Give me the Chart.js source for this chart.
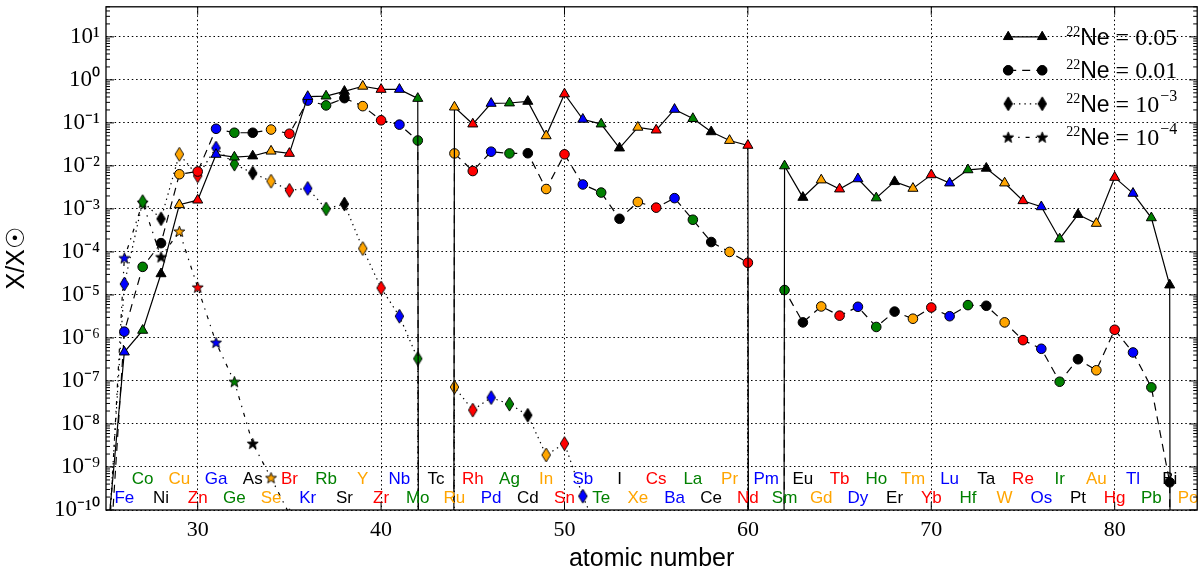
<!DOCTYPE html>
<html>
<head>
<meta charset="utf-8">
<script src="https://cdn.jsdelivr.net/npm/chart.js@4/dist/chart.umd.min.js"></script>
<style>
  html, body { margin: 0; padding: 0; background: #fff; }
  #wrap { width: 1204px; height: 577px; }
</style>
</head>
<body>
<div id="wrap"><canvas id="canvasPanel" width="1204" height="577"></canvas></div>
<script>
// atomic numbers 25 (Mn) .. 84 (Po)
var Z_START = 25;
var ELEMENTS = ['Mn', 'Fe', 'Co', 'Ni', 'Cu', 'Zn', 'Ga', 'Ge', 'As', 'Se', 'Br', 'Kr', 'Rb', 'Sr', 'Y', 'Zr', 'Nb', 'Mo', 'Tc', 'Ru',
  'Rh', 'Pd', 'Ag', 'Cd', 'In', 'Sn', 'Sb', 'Te', 'I', 'Xe', 'Cs', 'Ba', 'La', 'Ce', 'Pr', 'Nd', 'Pm', 'Sm', 'Eu', 'Gd',
  'Tb', 'Dy', 'Ho', 'Er', 'Tm', 'Yb', 'Lu', 'Hf', 'Ta', 'W', 'Re', 'Os', 'Ir', 'Pt', 'Au', 'Hg', 'Tl', 'Pb', 'Bi', 'Po'];

// X/Xsun, 0 = no abundance (drops off the log axis), null = not plotted
var NE_005 = [1e-11, 4.7e-7, 1.5e-6, 3.1e-5, 1.25e-3, 1.6e-3, 0.0185, 0.016, 0.017, 0.022,
  0.0195, 0.41, 0.42, 0.54, 0.71, 0.60, 0.60, 0.37, 0, 0.233,
  0.094, 0.284, 0.29, 0.316, 0.050, 0.47, 0.121, 0.094, 0.026, 0.079,
  0.068, 0.206, 0.126, 0.062, 0.039, 0.030, 0, 0.010, 1.85e-3, 4.7e-3,
  2.9e-3, 5.0e-3, 1.8e-3, 4.3e-3, 3.0e-3, 6.2e-3, 4.0e-3, 8.1e-3, 8.8e-3, 4.0e-3,
  1.55e-3, 1.12e-3, 2.0e-4, 7.4e-4, 4.6e-4, 5.4e-3, 2.3e-3, 6.2e-4, 1.7e-5, 0];
var NE_001 = [3e-13, 1.4e-6, 4.5e-5, 1.6e-4, 6.4e-3, 7.4e-3, 0.073, 0.059, 0.059, 0.070,
  0.056, 0.33, 0.255, 0.376, 0.245, 0.115, 0.091, 0.039, 0, 0.0195,
  7.6e-3, 0.0214, 0.0195, 0.0197, 2.9e-3, 0.0186, 3.7e-3, 2.4e-3, 5.9e-4, 1.45e-3,
  1.07e-3, 1.78e-3, 5.6e-4, 1.7e-4, 1.0e-4, 5.6e-5, 0, 1.3e-5, 2.3e-6, 5.4e-6,
  3.3e-6, 5.3e-6, 1.8e-6, 4.1e-6, 2.8e-6, 5.1e-6, 3.2e-6, 5.8e-6, 5.6e-6, 2.3e-6,
  8.9e-7, 5.6e-7, 9.6e-8, 3.2e-7, 1.77e-7, 1.55e-6, 4.6e-7, 7.1e-8, 4.4e-10, 0];
var NE_1E3 = [3e-12, 1.8e-5, 1.48e-3, 5.9e-4, 0.0186, 5.9e-3, 0.026, 0.011, 6.8e-3, 4.4e-3,
  2.7e-3, 3.0e-3, 1.0e-3, 1.3e-3, 1.2e-4, 1.45e-5, 3.2e-6, 3.3e-7, 0, 7.2e-8,
  2.1e-8, 4.1e-8, 2.9e-8, 1.6e-8, 1.9e-9, 3.5e-9, 2.1e-10, 2e-11, null, null,
  null, null, null, null, null, null, null, null, null, null,
  null, null, null, null, null, null, null, null, null, null,
  null, null, null, null, null, null, null, null, null, null];
var NE_1E4 = [1e-12, 7.2e-5, 1.4e-3, 7.6e-5, 3.0e-4, 1.5e-5, 7.8e-7, 9.6e-8, 3.5e-9, 5.6e-10,
  8e-11, null, null, null, null, null, null, null, null, null,
  null, null, null, null, null, null, null, null, null, null,
  null, null, null, null, null, null, null, null, null, null,
  null, null, null, null, null, null, null, null, null, null,
  null, null, null, null, null, null, null, null, null, null];

var SERIES_NUM = ['0.05', '0.01', '10', '10'];
var SERIES_EXP = ['', '', '\u22123', '\u22124'];
var X_TICKS = [30, 40, 50, 60, 70, 80];
var Y_EXPONENTS = [-10, -9, -8, -7, -6, -5, -4, -3, -2, -1, 0, 1];

var COLORS = ['#ff0000', '#0000ff', '#008000', '#000000', '#ffa500'];
var FLOOR = 1e-300;
var SUP = {'0': '\u2070', '1': '\u00b9', '2': '\u00b2', '3': '\u00b3', '4': '\u2074', '5': '\u2075',
  '6': '\u2076', '7': '\u2077', '8': '\u2078', '9': '\u2079', '-': '\u207b'};

function colorFor(z) { return COLORS[(z - 25) % 5]; }

function markerCanvas(shape, color) {
  var c = document.createElement('canvas');
  var w = shape === 'diamond' ? 11 : 13, h = shape === 'diamond' ? 16 : 13;
  c.width = w; c.height = h;
  var g = c.getContext('2d');
  g.beginPath();
  if (shape === 'diamond') {
    g.moveTo(w / 2, 1); g.lineTo(w - 1.2, h / 2); g.lineTo(w / 2, h - 1); g.lineTo(1.2, h / 2);
  } else {
    for (var k = 0; k < 10; k++) {
      var r = k % 2 ? 2.4 : 5.8, a = -Math.PI / 2 + k * Math.PI / 5;
      g.lineTo(w / 2 + r * Math.cos(a), h / 2 + 0.4 + r * Math.sin(a));
    }
  }
  g.closePath();
  g.fillStyle = color; g.fill();
  g.lineWidth = 0.9; g.strokeStyle = '#000'; g.stroke();
  return c;
}

var markerCache = {};
function marker(shape, color) {
  var key = shape + color;
  if (!markerCache[key]) markerCache[key] = markerCanvas(shape, color);
  return markerCache[key];
}

function makeDataset(values, shape, dash, radius) {
  var pts = values.map(function (v, i) {
    return {x: Z_START + i, y: v === null ? null : (v === 0 ? FLOOR : v)};
  });
  var colors = values.map(function (v, i) { return colorFor(Z_START + i); });
  return {
    data: pts,
    borderColor: '#000',
    borderWidth: 1.2,
    borderDash: dash,
    fill: false,
    pointStyle: values.map(function (v, i) {
      return (shape === 'diamond' || shape === 'star') ? marker(shape, colorFor(Z_START + i)) : shape;
    }),
    pointRadius: values.map(function (v) { return (v === 0 || v === null) ? 0 : radius; }),
    pointBackgroundColor: colors,
    pointBorderColor: '#000',
    pointBorderWidth: 1,
    shape: shape
  };
}

var DASHES = [[], [8, 6], [1.4, 4], [4, 6, 1.4, 6]];

var elementLabels = {
  id: 'elementLabels',
  afterDatasetsDraw: function (chart) {
    var ctx = chart.ctx, xs = chart.scales.x, area = chart.chartArea;
    ctx.save();
    ctx.font = '17px "Liberation Sans", Arial, sans-serif';
    ctx.textAlign = 'center';
    ctx.textBaseline = 'middle';
    ELEMENTS.forEach(function (name, i) {
      var z = Z_START + i;
      if (z < 26) return;
      ctx.fillStyle = colorFor(z);
      ctx.fillText(name, xs.getPixelForValue(z), z % 2 ? area.bottom - 31 : area.bottom - 12);
    });
    ctx.restore();
  }
};

var frameAndLegend = {
  id: 'frameAndLegend',
  afterDraw: function (chart) {
    var ctx = chart.ctx, a = chart.chartArea, xs = chart.scales.x, ys = chart.scales.y;
    ctx.save();
    ctx.strokeStyle = '#000';
    ctx.lineWidth = 1.3;
    ctx.strokeRect(a.left, a.top, a.right - a.left, a.bottom - a.top);
    // inward ticks
    ctx.lineWidth = 1;
    ctx.beginPath();
    X_TICKS.forEach(function (t) {
      var px = xs.getPixelForValue(t);
      ctx.moveTo(px, a.bottom); ctx.lineTo(px, a.bottom - 8);
      ctx.moveTo(px, a.top); ctx.lineTo(px, a.top + 8);
    });
    Y_EXPONENTS.forEach(function (e) {
      for (var k = 1; k < 10; k++) {
        var v = k * Math.pow(10, e);
        if (v > ys.max) break;
        var py = ys.getPixelForValue(v), len = k === 1 ? 8 : 4;
        ctx.moveTo(a.left, py); ctx.lineTo(a.left + len, py);
        ctx.moveTo(a.right, py); ctx.lineTo(a.right - len, py);
      }
    });
    ctx.stroke();

    // legend
    chart.data.datasets.forEach(function (ds, i) {
      var y = a.top + 30 + i * 33.5, x0 = a.right - 189, x1 = a.right - 155;
      ctx.save();
      ctx.lineWidth = 1.2;
      ctx.setLineDash(ds.borderDash);
      ctx.beginPath(); ctx.moveTo(x0, y); ctx.lineTo(x1, y); ctx.stroke();
      ctx.restore();
      ctx.fillStyle = '#000';
      [x0, x1].forEach(function (px) {
        var style = (ds.shape === 'diamond' || ds.shape === 'star') ? marker(ds.shape, '#000') : ds.shape;
        Chart.helpers.drawPoint(ctx, {pointStyle: style, radius: ds.shape === 'circle' ? 4.8 : 5.5, rotation: 0, borderWidth: 1}, px, y);
        ctx.fill();
      });
      var tx = a.right - 131;
      ctx.textAlign = 'left';
      ctx.textBaseline = 'alphabetic';
      ctx.font = '14px "Liberation Serif", serif';
      ctx.fillText('22', tx, y - 1);
      tx += ctx.measureText('22').width;
      ctx.font = '23px "Liberation Sans", Arial, sans-serif';
      ctx.fillText('Ne', tx, y + 8);
      tx += ctx.measureText('Ne').width;
      ctx.font = '24px "Liberation Serif", serif';
      var s = ' = ' + SERIES_NUM[i];
      ctx.fillText(s, tx, y + 8);
      tx += ctx.measureText(s).width;
      if (SERIES_EXP[i]) {
        ctx.font = '16px "Liberation Serif", serif';
        ctx.fillText(SERIES_EXP[i], tx + 1, y - 3);
      }
    });
    ctx.restore();
  }
};

function noEdgePadding(s) {
  s.paddingTop = 0; s.paddingBottom = 0; s.paddingLeft = 0; s.paddingRight = 0;
}

var config = {
  type: 'line',
  data: {
    datasets: [
      makeDataset(NE_005, 'triangle', DASHES[0], 5.8),
      makeDataset(NE_001, 'circle', DASHES[1], 4.8),
      makeDataset(NE_1E3, 'diamond', DASHES[2], 5),
      makeDataset(NE_1E4, 'star', DASHES[3], 5)
    ]
  },
  options: {
    responsive: false,
    animation: false,
    events: [],
    spanGaps: false,
    layout: {padding: {top: 4, right: 4, left: 0, bottom: 0}},
    plugins: {legend: {display: false}, tooltip: {enabled: false}},
    scales: {
      x: {
        type: 'linear', min: 25, max: 84.5, bounds: 'data',
        afterBuildTicks: function (s) { s.ticks = X_TICKS.map(function (v) { return {value: v}; }); },
        afterFit: function (s) { s.height = 67; noEdgePadding(s); },
        grid: {color: '#000', lineWidth: 1, drawTicks: false},
        border: {display: false, dash: [1.5, 2.8]},
        ticks: {color: '#000', padding: 7, maxRotation: 0, autoSkip: false,
          font: {family: '"Liberation Serif", serif', size: 22}},
        title: {display: true, text: 'atomic number', color: '#000',
          font: {family: '"Liberation Sans", Arial, sans-serif', size: 25}, padding: {top: 0, bottom: 3}}
      },
      y: {
        type: 'logarithmic', min: 1e-10, max: 50, bounds: 'data',
        afterBuildTicks: function (s) { s.ticks = Y_EXPONENTS.map(function (e) { return {value: Math.pow(10, e)}; }); },
        afterFit: function (s) { s.width = 106; noEdgePadding(s); },
        grid: {color: '#000', lineWidth: 1, drawTicks: false},
        border: {display: false, dash: [1.5, 2.8]},
        ticks: {color: '#000', padding: 6, autoSkip: false,
          font: {family: '"Liberation Serif", serif', size: 23},
          callback: function (v) {
            var e = String(Math.round(Math.log10(v)));
            return '10' + e.split('').map(function (c) { return SUP[c]; }).join('');
          }},
        title: {display: true, text: 'X/X\u2609', color: '#000',
          font: {family: '"Liberation Sans", Arial, sans-serif', size: 25}, padding: {top: 2, bottom: 0}}
      }
    }
  },
  plugins: [elementLabels, frameAndLegend]
};

window.onload = function () {
  var ctx = document.getElementById('canvasPanel').getContext('2d');
  window.myLine = new Chart(ctx, config);
};
</script>
</body>
</html>
